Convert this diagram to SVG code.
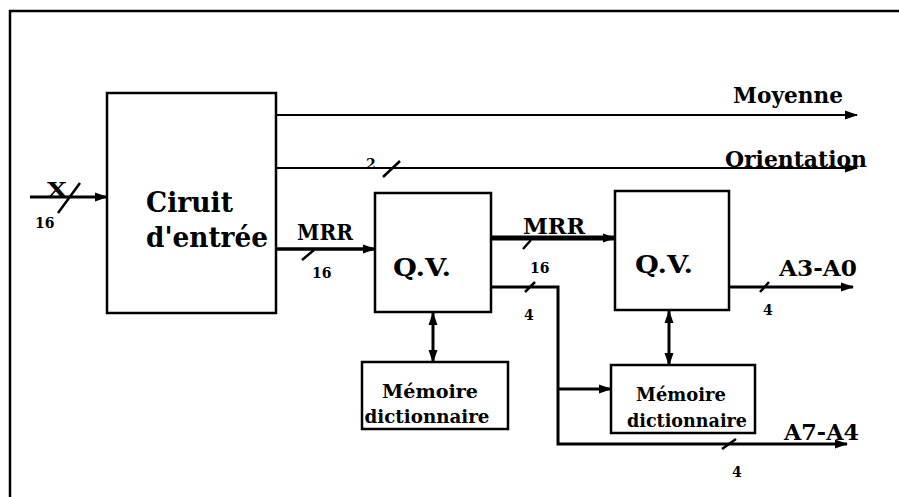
<svg xmlns="http://www.w3.org/2000/svg" width="899" height="497" viewBox="0 0 899 497">
<defs>
<marker id="ah" markerUnits="userSpaceOnUse" markerWidth="13" markerHeight="10" refX="12" refY="5" orient="auto-start-reverse" viewBox="0 0 13 10">
<path d="M0,0.5 L13,5 L0,9.5 Z" fill="#000"/>
</marker>
</defs>
<style>
.t{font-family:"DejaVu Serif","Liberation Serif",serif;fill:#000;font-weight:bold}
.big{font-size:28px}
.lab{font-size:23px}
.num{font-size:14px}
.mem{font-size:19px}
.box{fill:#fff;stroke:#000;stroke-width:2.5}
.ln{fill:none;stroke:#000;stroke-width:2}
.sl{stroke:#000;stroke-width:2.5;fill:none}
</style>
<rect width="899" height="497" fill="#fff"/>
<g id="frame">
<path d="M10,497 L10,11 L899,11" fill="none" stroke="#000" stroke-width="2.5"/>
</g>
<g id="connectors">
<line x1="30" y1="197" x2="107" y2="197" stroke="#000" stroke-width="3" marker-end="url(#ah)"/>
<line x1="58" y1="213" x2="80" y2="183" class="sl"/>
<line x1="276" y1="115" x2="857" y2="115" class="ln" marker-end="url(#ah)"/>
<line x1="276" y1="168" x2="857" y2="168" class="ln" marker-end="url(#ah)"/>
<line x1="383" y1="177" x2="400" y2="161" class="sl"/>
<line x1="276" y1="249" x2="375" y2="249" stroke="#000" stroke-width="3.5" marker-end="url(#ah)"/>
<line x1="302" y1="260" x2="314" y2="250" class="sl"/>
<line x1="491" y1="238" x2="615" y2="238" stroke="#000" stroke-width="5" marker-end="url(#ah)"/>
<line x1="523" y1="249" x2="531" y2="240" class="sl"/>
<path d="M491,287 L558,287 L558,444 L847,444" fill="none" stroke="#000" stroke-width="3" marker-end="url(#ah)"/>
<line x1="525" y1="292" x2="535" y2="282" class="sl"/>
<line x1="722" y1="449" x2="736" y2="439" class="sl"/>
<line x1="558" y1="389" x2="611" y2="389" stroke="#000" stroke-width="3" marker-end="url(#ah)"/>
<line x1="729" y1="287" x2="853" y2="287" stroke="#000" stroke-width="3" marker-end="url(#ah)"/>
<line x1="760" y1="292" x2="769" y2="282" class="sl"/>
<line x1="433" y1="313" x2="433" y2="362" stroke="#000" stroke-width="3" marker-start="url(#ah)" marker-end="url(#ah)"/>
<line x1="669" y1="311" x2="669" y2="365" stroke="#000" stroke-width="3" marker-start="url(#ah)" marker-end="url(#ah)"/>
</g>
<g id="labels">
<text class="t" x="47" y="197" style="font-size:21px" textLength="20" lengthAdjust="spacingAndGlyphs">X</text>
<text class="t num" x="35" y="228">16</text>
<text class="t lab" x="733" y="103" textLength="110" lengthAdjust="spacingAndGlyphs">Moyenne</text>
<text class="t lab" x="725" y="167" textLength="142" lengthAdjust="spacingAndGlyphs">Orientation</text>
<text class="t num" x="366" y="169">2</text>
<text class="t lab" x="297" y="240" textLength="56" lengthAdjust="spacingAndGlyphs">MRR</text>
<text class="t num" x="312" y="278">16</text>
<text class="t lab" x="523" y="234" textLength="62" lengthAdjust="spacingAndGlyphs">MRR</text>
<text class="t num" x="530" y="273">16</text>
<text class="t num" x="524" y="320">4</text>
<text class="t" x="779" y="276" textLength="78" lengthAdjust="spacingAndGlyphs" style="font-size:22px">A3-A0</text>
<text class="t num" x="763" y="315">4</text>
<text class="t" x="784" y="440" textLength="75" lengthAdjust="spacingAndGlyphs" style="font-size:22px">A7-A4</text>
<text class="t num" x="732" y="477">4</text>
</g>
<g id="ciruit">
<rect class="box" x="107" y="93" width="169" height="220"/>
<text class="t big" x="146" y="212" textLength="87" lengthAdjust="spacingAndGlyphs">Ciruit</text>
<text class="t big" x="146" y="247" textLength="122" lengthAdjust="spacingAndGlyphs">d'entrée</text>
</g>
<g id="qv1">
<rect class="box" x="375" y="193" width="116" height="119"/>
<text class="t" x="422" y="276" text-anchor="middle" style="font-size:25px" textLength="58" lengthAdjust="spacingAndGlyphs">Q.V.</text>
</g>
<g id="qv2">
<rect class="box" x="615" y="191" width="114" height="119"/>
<text class="t" x="664" y="273" text-anchor="middle" style="font-size:25px" textLength="58" lengthAdjust="spacingAndGlyphs">Q.V.</text>
</g>
<g id="mem1">
<rect class="box" x="362" y="362" width="146" height="67"/>
<text class="t mem" x="430" y="398" text-anchor="middle" textLength="96" lengthAdjust="spacingAndGlyphs">Mémoire</text>
<text class="t mem" x="427" y="423" text-anchor="middle" textLength="125" lengthAdjust="spacingAndGlyphs">dictionnaire</text>
</g>
<g id="mem2">
<rect class="box" x="611" y="365" width="144" height="68"/>
<text class="t mem" x="681" y="401" text-anchor="middle" textLength="90" lengthAdjust="spacingAndGlyphs">Mémoire</text>
<text class="t mem" x="687" y="427" text-anchor="middle" textLength="120" lengthAdjust="spacingAndGlyphs">dictionnaire</text>
</g>
</svg>
